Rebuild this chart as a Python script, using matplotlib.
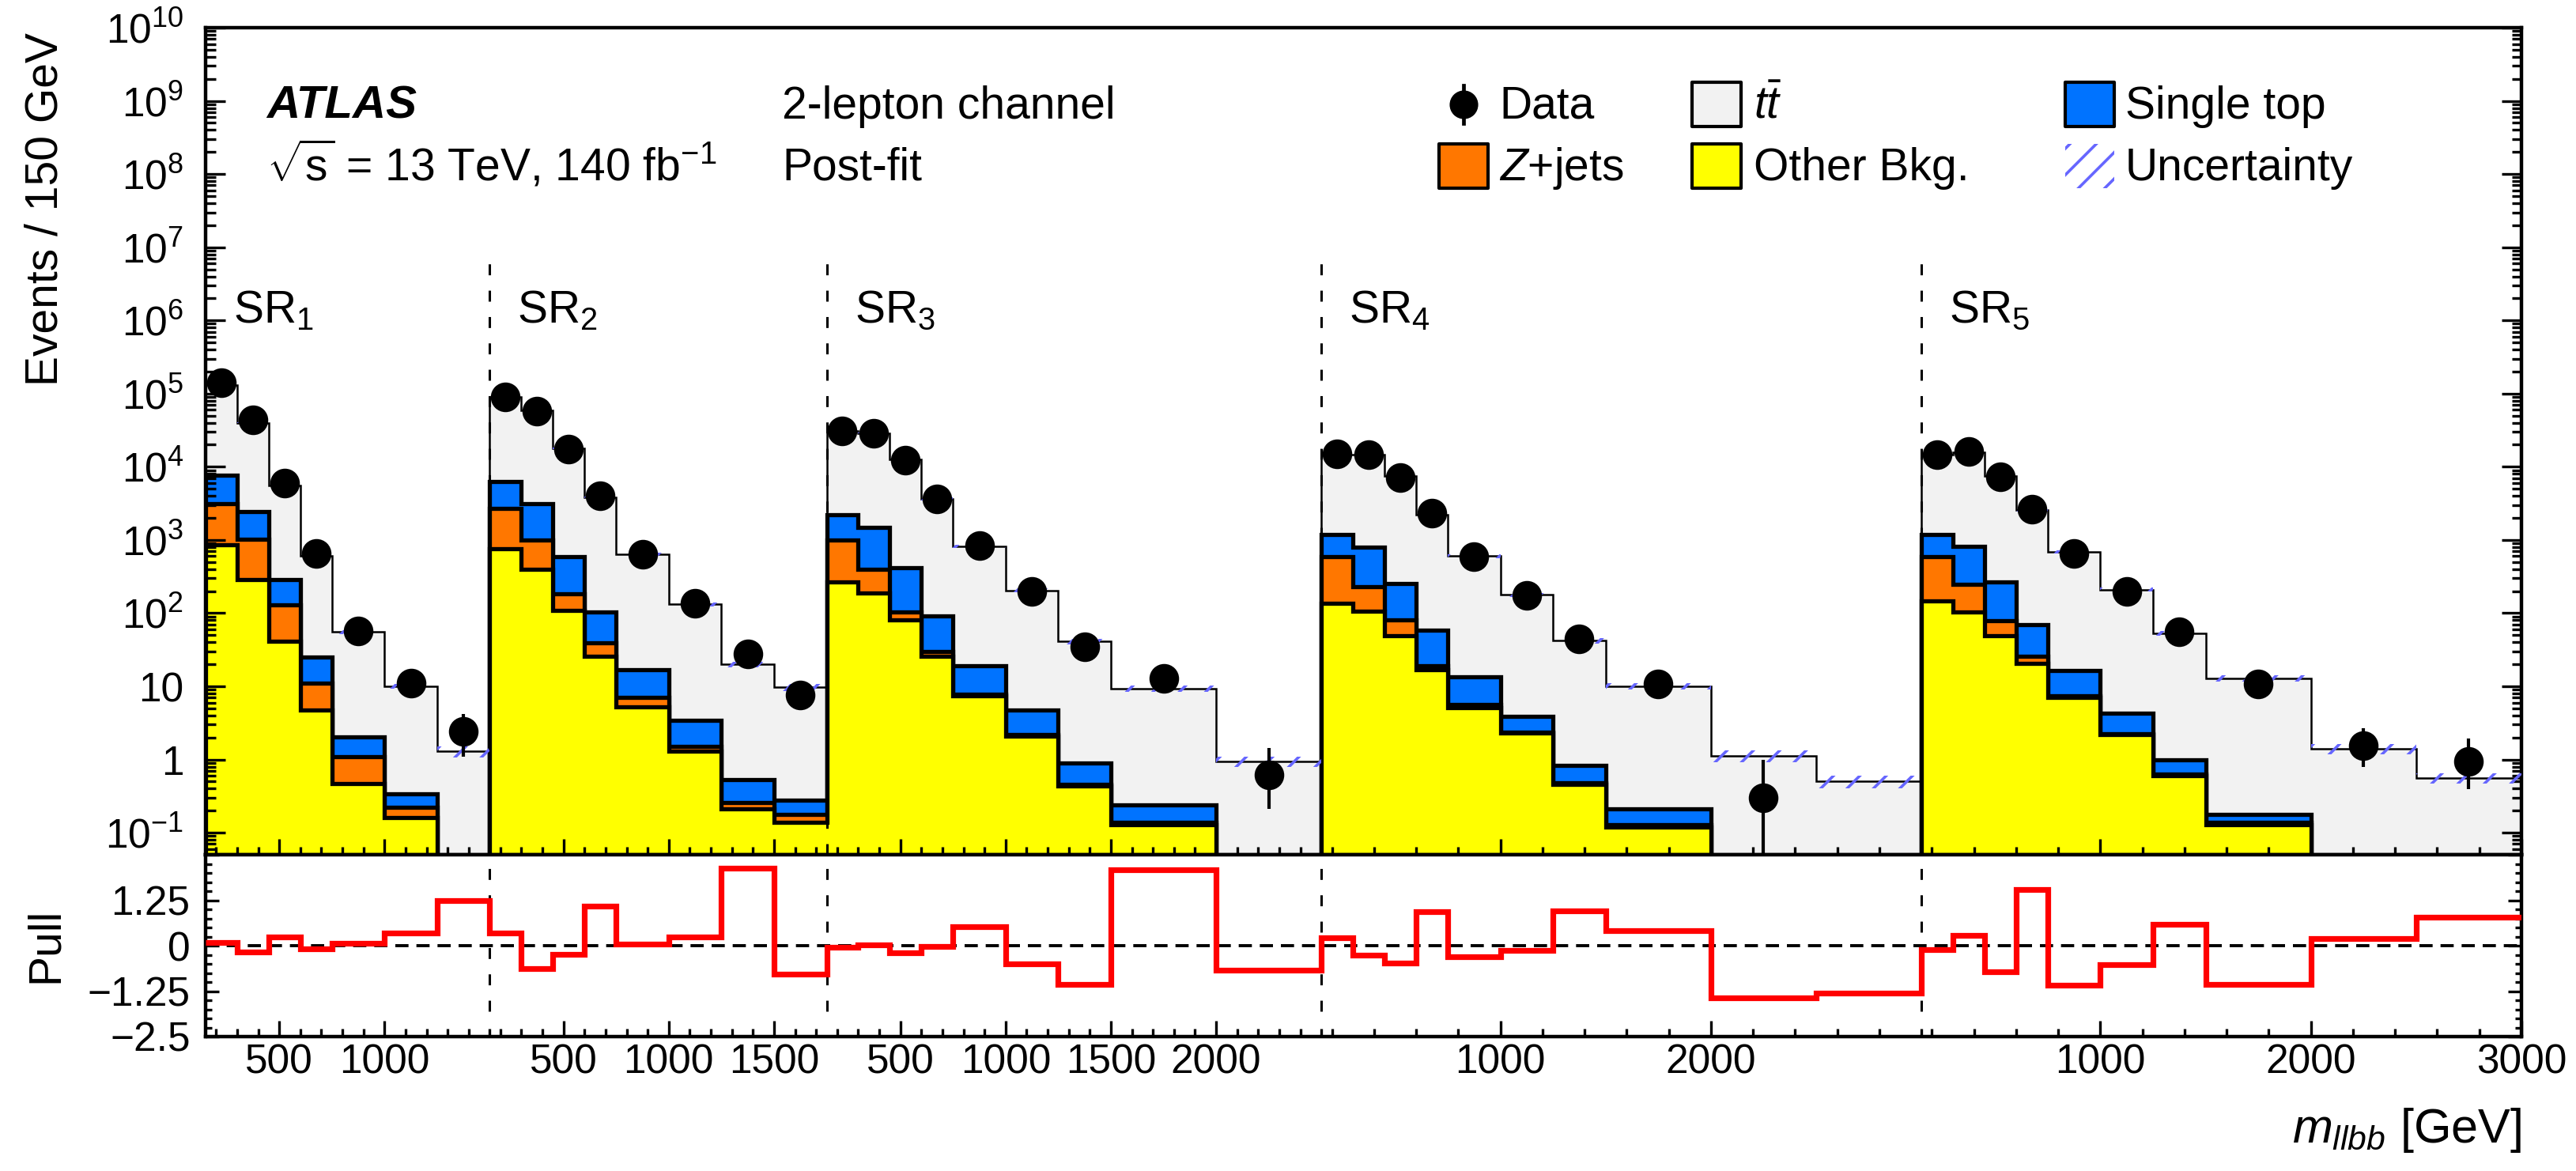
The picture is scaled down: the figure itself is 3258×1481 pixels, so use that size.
import numpy as np
import matplotlib
matplotlib.use("Agg")
import matplotlib.pyplot as plt
from matplotlib.patches import Rectangle
from matplotlib.lines import Line2D
from matplotlib.ticker import (FixedLocator, FixedFormatter, LogLocator,
                               MultipleLocator, NullFormatter)

plt.rcParams['font.family'] = ['Liberation Sans', 'DejaVu Sans']
plt.rcParams['mathtext.fontset'] = 'custom'
plt.rcParams['mathtext.rm'] = 'Liberation Sans'
plt.rcParams['mathtext.it'] = 'Liberation Sans:italic'
plt.rcParams['mathtext.bf'] = 'Liberation Sans:bold'
plt.rcParams['hatch.linewidth'] = 1.3
plt.rcParams['lines.scale_dashes'] = False

# m_llbb bin edges [GeV], one list per signal region
edges = [
    [150, 300, 450, 600, 750, 1000, 1250, 1500],
    [150, 300, 450, 600, 750, 1000, 1250, 1500, 1750],
    [150, 300, 450, 600, 750, 1000, 1250, 1500, 2000, 2500],
    [150, 300, 450, 600, 750, 1000, 1250, 1500, 2000, 2500, 3000],
    [150, 300, 450, 600, 750, 1000, 1250, 1500, 2000, 2500, 3000],
]
region_names = ['SR$_{1}$', 'SR$_{2}$', 'SR$_{3}$', 'SR$_{4}$', 'SR$_{5}$']

# events / 150 GeV per process (post-fit)
other_bkg = [
    [870, 285, 41, 4.7, 0.47, 0.16, 0],
    [760, 400, 109, 26, 5.2, 1.3, 0.21, 0.14],
    [265, 190, 80, 25.6, 7.4, 2.1, 0.44, 0.13, 0],
    [135, 107, 49, 17, 5.1, 2.3, 0.46, 0.12, 0, 0],
    [147, 105, 49, 20.5, 7.0, 2.2, 0.6, 0.13, 0, 0],
]
zjets = [
    [2230, 735, 88, 6.3, 0.63, 0.06, 0],
    [1940, 600, 74, 13, 1.8, 0.2, 0.05, 0.04],
    [735, 210, 25, 4.4, 0.4, 0.1, 0.02, 0.01, 0],
    [455, 123, 31, 2, 0.5, 0.05, 0.02, 0.01, 0, 0],
    [443, 145, 29, 5.5, 0.4, 0.05, 0.03, 0.01, 0, 0],
]
single_top = [
    [4600, 1430, 161, 14, 0.95, 0.12, 0],
    [3600, 2100, 407, 66, 10, 1.9, 0.27, 0.10],
    [1200, 1100, 310, 62, 11.2, 2.5, 0.44, 0.10, 0],
    [590, 570, 175, 39, 7.9, 1.55, 0.35, 0.08, 0, 0],
    [590, 565, 187, 43, 9.1, 2.0, 0.37, 0.04, 0, 0],
]
ttbar = [
    [122000, 37500, 5300, 585, 53, 9.7, 1.3],
    [82700, 55900, 17200, 3695, 618, 128.6, 19.5, 9.4],
    [28800, 27500, 12185, 3558, 801, 200.3, 40.1, 9.16, 0.95],
    [13500, 13900, 7145, 2142, 586.5, 174.1, 41.2, 9.79, 1.12, 0.50],
    [13500, 15000, 7235, 2481, 673.5, 205.8, 52.0, 12.6, 1.4, 0.56],
]
unc_rel = [
    [0.02, 0.02, 0.03, 0.04, 0.05, 0.07, 0.17],
    [0.02, 0.02, 0.03, 0.04, 0.05, 0.07, 0.09, 0.12],
    [0.02, 0.02, 0.03, 0.04, 0.05, 0.06, 0.08, 0.10, 0.16],
    [0.02, 0.02, 0.03, 0.04, 0.05, 0.06, 0.08, 0.10, 0.18, 0.20],
    [0.02, 0.02, 0.03, 0.04, 0.05, 0.06, 0.08, 0.10, 0.16, 0.17],
]
data = [
    [140000, 44000, 6000, 650, 57, 11, 2.4],
    [90000, 58000, 17600, 4000, 640, 135, 28, 7.6],
    [31000, 29000, 12400, 3650, 840, 198, 35, 12.8, 0.61],
    [15000, 14500, 7200, 2350, 590, 176, 45, 10.8, 0.30, 0],
    [14500, 16000, 7300, 2650, 660, 200, 55, 10.8, 1.56, 0.93],
]
data_err_lo = [
    [0, 0, 0, 0, 0, 0, 1.3],
    [0, 0, 0, 0, 0, 0, 0, 0],
    [0, 0, 0, 0, 0, 0, 0, 0, 0.40],
    [0, 0, 0, 0, 0, 0, 0, 0, 0.299, 0],
    [0, 0, 0, 0, 0, 0, 0, 0, 0.76, 0.54],
]
data_err_hi = [
    [0, 0, 0, 0, 0, 0, 1.8],
    [0, 0, 0, 0, 0, 0, 0, 0],
    [0, 0, 0, 0, 0, 0, 0, 0, 0.83],
    [0, 0, 0, 0, 0, 0, 0, 0, 0.70, 0],
    [0, 0, 0, 0, 0, 0, 0, 0, 1.14, 1.02],
]
pull = [
    [0.09, -0.17, 0.24, -0.09, 0.07, 0.35, 1.25],
    [0.35, -0.63, -0.24, 1.09, 0.05, 0.24, 2.12, -0.78],
    [-0.04, 0.02, -0.20, -0.02, 0.53, -0.49, -1.07, 2.09, -0.67],
    [0.22, -0.25, -0.47, 0.94, -0.31, -0.12, 0.96, 0.42, -1.43, -1.30],
    [-0.11, 0.29, -0.72, 1.54, -1.09, -0.52, 0.58, -1.07, 0.20, 0.78],
]
tick_labels = [[500, 1000], [500, 1000, 1500], [500, 1000, 1500, 2000],
               [1000, 2000], [1000, 2000, 3000]]
minor_step = [100, 100, 100, 200, 200]

# ---- glue the five regions onto one x axis ----
widths_r = [e[-1] - e[0] for e in edges]
offsets = np.concatenate([[0], np.cumsum(widths_r)[:-1]])
x_max = sum(widths_r)

def to_x(i, m):
    return offsets[i] + (np.asarray(m, dtype=float) - edges[i][0])

xedges = np.concatenate([to_x(0, edges[0])] + [to_x(i, edges[i][1:]) for i in range(1, 5)])
centers = 0.5 * (xedges[1:] + xedges[:-1])
bw = np.diff(xedges)

cat = lambda a: np.concatenate([np.asarray(v, dtype=float) for v in a])
h_other = cat(other_bkg)
h_z = h_other + cat(zjets)
h_st = h_z + cat(single_top)
h_tot = h_st + cat(ttbar)
unc = cat(unc_rel)
d = cat(data)
dlo = cat(data_err_lo)
dhi = cat(data_err_hi)
pl = cat(pull)

floor = 1e-3
clip = lambda v: np.where(v > 0, v, floor)

W, H = 3258, 1481
fig = plt.figure(figsize=(W / 200, H / 200), dpi=200)
ax = fig.add_axes([260 / W, 1 - 1081 / H, (3189 - 260) / W, (1081 - 35) / H])
axp = fig.add_axes([260 / W, 1 - 1311 / H, (3189 - 260) / W, (1311 - 1081) / H])

# stacked backgrounds
ax.stairs(clip(h_tot), xedges, baseline=floor, fill=True, facecolor='#f2f2f2',
          edgecolor='black', linewidth=0.9)
ax.stairs(clip(h_st), xedges, baseline=floor, fill=True, facecolor='#0073ff',
          edgecolor='black', linewidth=1.9)
ax.stairs(clip(h_z), xedges, baseline=floor, fill=True, facecolor='#ff7700',
          edgecolor='black', linewidth=1.9)
ax.stairs(clip(h_other), xedges, baseline=floor, fill=True, facecolor='#ffff00',
          edgecolor='black', linewidth=1.9)

# uncertainty band
ax.bar(centers, 2 * unc * h_tot, bottom=h_tot * (1 - unc), width=bw, fill=False,
       hatch='//', edgecolor='#6666ff', linewidth=0, zorder=3)

# data
m = d > 0
ax.errorbar(centers[m], d[m], yerr=[dlo[m], dhi[m]], fmt='o', color='black',
            ms=12.5, elinewidth=1.5, capsize=0, zorder=5)

ax.set_yscale('log')
ax.set_ylim(0.05, 1e10)
ax.set_xlim(0, x_max)

bounds = offsets[1:]
ax.vlines(bounds, 0.05, 8e6, colors='black', linestyles=(0, (5, 7)), linewidth=1.1, zorder=4)

# pull panel
axp.axhline(0, color='black', linestyle=(0, (6, 3.6)), linewidth=1.4, zorder=2)
axp.vlines(bounds, -1.8, 2.5, colors='black', linestyles=(0, (5, 7)), linewidth=1.1, zorder=2)
axp.stairs(pl, xedges, baseline=None, color='#ff0000', linewidth=2.6, zorder=3)
axp.set_xlim(0, x_max)
axp.set_ylim(-2.5, 2.5)

# ticks
xmaj, xlab, xmin = [], [], []
for i in range(5):
    for t in tick_labels[i]:
        xmaj.append(to_x(i, t))
        xlab.append(str(t))
    for t in np.arange(200, edges[i][-1] + 1, minor_step[i]):
        if t not in tick_labels[i]:
            xmin.append(to_x(i, t))

for a in (ax, axp):
    a.xaxis.set_major_locator(FixedLocator(xmaj))
    a.xaxis.set_minor_locator(FixedLocator(xmin))
    a.tick_params(axis='x', which='major', direction='in', length=7.2, width=1.2,
                  top=False, labelsize=18.5, pad=3)
    a.tick_params(axis='x', which='minor', direction='in', length=3.6, width=1.2, top=False)
    for s in a.spines.values():
        s.set_linewidth(1.6)
axp.xaxis.set_major_formatter(FixedFormatter(xlab))
ax.tick_params(axis='x', labelbottom=False)

ylab = ['$10^{-1}$', '1', '10'] + ['$10^{%d}$' % k for k in range(2, 11)]
ax.yaxis.set_major_locator(FixedLocator(10.0 ** np.arange(-1, 11)))
ax.yaxis.set_major_formatter(FixedFormatter(ylab))
ax.yaxis.set_minor_locator(LogLocator(base=10, subs=np.arange(2, 10), numticks=40))
ax.yaxis.set_minor_formatter(NullFormatter())
ax.tick_params(axis='y', which='major', direction='in', length=9, width=1.2,
               left=True, right=True, labelsize=18.5, pad=10)
ax.tick_params(axis='y', which='minor', direction='in', length=4.5, width=1.2,
               left=True, right=True)

axp.yaxis.set_major_locator(FixedLocator([-2.5, -1.25, 0, 1.25, 2.5]))
axp.yaxis.set_major_formatter(FixedFormatter(['\u22122.5', '\u22121.25', '0', '1.25', '']))
axp.yaxis.set_minor_locator(MultipleLocator(0.25))
axp.tick_params(axis='y', which='major', direction='in', length=6, width=1.2,
                left=True, right=True, labelsize=18.5, pad=7)
axp.tick_params(axis='y', which='minor', direction='in', length=3, width=1.2,
                left=True, right=True)

# region labels
for i, name in enumerate(region_names):
    ax.annotate(name, xy=(offsets[i], 0.643), xycoords=('data', 'axes fraction'),
                xytext=(12.6, 0), textcoords='offset points', va='baseline', fontsize=20.5)

# axis titles
fig.text(58 / W, 1 - 41 / H, 'Events / 150 GeV', rotation=90, ha='center', va='top', fontsize=20.5)
fig.text(58 / W, 1 - 1195 / H, 'Pull', rotation=90, ha='center', va='center', fontsize=20.5)
fig.text(3189 / W, 1 - 1445 / H, r'$m_{llbb}$ [GeV]', ha='right', va='baseline', fontsize=22)

# labels on top
fig.text(337 / W, 1 - 150 / H, 'ATLAS', fontweight='bold', style='italic', fontsize=21, va='baseline')
fig.text(337 / W, 1 - 228 / H, r'$\sqrt{\mathrm{s}}$ = 13 TeV, 140 fb$^{-1}$', fontsize=20.5, va='baseline')
fig.text(989 / W, 1 - 150 / H, '2-lepton channel', fontsize=20.5, va='baseline')
fig.text(989 / W, 1 - 228 / H, 'Post-fit', fontsize=20.5, va='baseline')

# legend, drawn by hand to match the three columns
def leg_box(x0, yc, face, hatch=None):
    if hatch:
        r = Rectangle((x0 / W, 1 - (yc + 27.5) / H), 62 / W, 55 / H, transform=fig.transFigure,
                      facecolor='none', edgecolor='#6666ff', hatch=hatch, linewidth=0)
    else:
        r = Rectangle((x0 / W, 1 - (yc + 27.5) / H), 62 / W, 55 / H, transform=fig.transFigure,
                      facecolor=face, edgecolor='black', linewidth=1.5, joinstyle='round')
    fig.add_artist(r)

def leg_text(x0, yb, s):
    fig.text(x0 / W, 1 - yb / H, s, fontsize=20.5, va='baseline')

fig.add_artist(Line2D([1851 / W] * 2, [1 - 108 / H, 1 - 156 / H], transform=fig.transFigure,
                      color='black', linewidth=1.7))
fig.add_artist(Line2D([1851 / W], [1 - 132 / H], transform=fig.transFigure, marker='o',
                      color='black', ms=12))
leg_text(1896, 150, 'Data')
leg_box(1820, 210, '#ff7700')
leg_text(1896, 228, '$Z$+jets')
leg_box(2140, 132, '#f2f2f2')
leg_text(2218, 150, r'$t\bar{t}$')
leg_box(2140, 210, '#ffff00')
leg_text(2218, 228, 'Other Bkg.')
leg_box(2612, 132, '#0073ff')
leg_text(2688, 150, 'Single top')
leg_box(2612, 210, None, hatch='//')
leg_text(2688, 228, 'Uncertainty')

fig.savefig('out.png', dpi=200)
